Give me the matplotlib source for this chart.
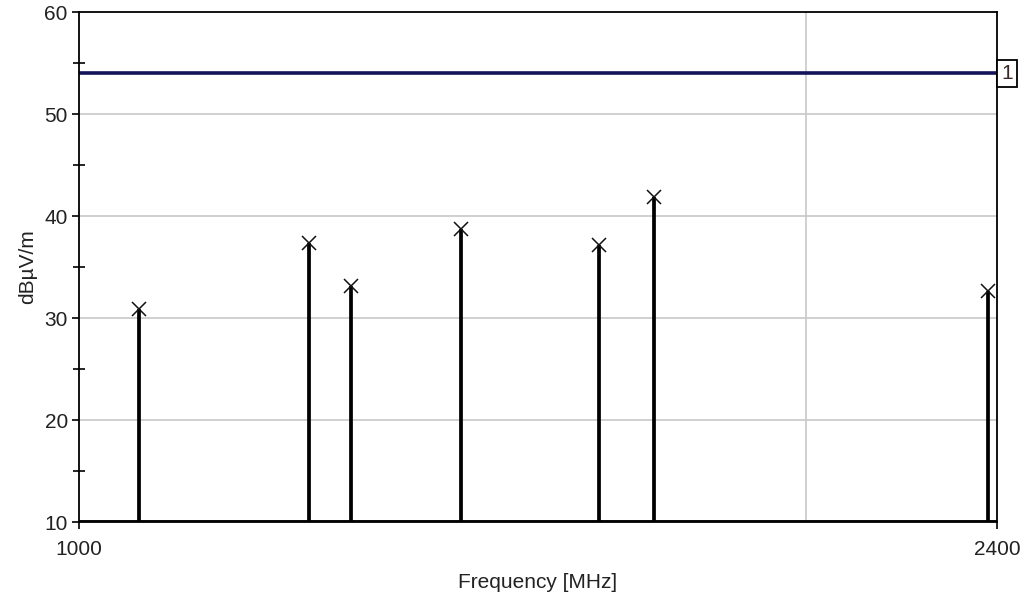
import matplotlib
matplotlib.use("Agg")
import matplotlib.pyplot as plt
from matplotlib.ticker import FixedLocator, NullFormatter, NullLocator

plt.rcParams['font.family'] = ['Liberation Sans', 'DejaVu Sans']

# Measured peaks
freq_mhz = [1059, 1245, 1296, 1440, 1642, 1731, 2380]
level_dbuv = [30.9, 37.4, 33.1, 38.7, 37.2, 41.9, 32.7]

limit_level = 54
limit_label = "1"
x_ticks = [1000, 2400]
y_ticks = [10, 20, 30, 40, 50, 60]
y_minor = [15, 25, 35, 45, 55]
x_grid = [2000]

fig = plt.figure(figsize=(10.24, 6.07), dpi=100)
ax = fig.add_axes([0.0771, 0.140, 0.8965, 0.840])

ax.set_xscale('log')
ax.set_xlim(1000, 2400)
ax.set_ylim(10, 60)

# grid
for yv in y_ticks[1:-1]:
    ax.axhline(yv, color='#c8c8c8', lw=1.2, zorder=1)
for xv in x_grid:
    ax.axvline(xv, color='#c8c8c8', lw=1.2, zorder=1)

# stems and markers
ax.vlines(freq_mhz, 10, level_dbuv, color='black', lw=2.7, zorder=3)
ax.plot(freq_mhz, level_dbuv, linestyle='none', marker='x', ms=10,
        mec='#111111', mew=1.1, zorder=4)
ax.axhline(10, color='black', lw=2.8, zorder=3)

# limit line
ax.axhline(limit_level, color='#14145a', lw=2.6, zorder=2)
ax.text(1.005, limit_level, limit_label, transform=ax.get_yaxis_transform(),
        ha='left', va='center', fontsize=15, color='#3a2a2a',
        bbox=dict(boxstyle='square,pad=0.2', fc='white', ec='black', lw=1.3),
        clip_on=False, zorder=5)

ax.xaxis.set_major_locator(FixedLocator(x_ticks))
ax.xaxis.set_minor_locator(NullLocator())
ax.xaxis.set_minor_formatter(NullFormatter())
ax.set_xticklabels([str(v) for v in x_ticks])
ax.set_yticks(y_ticks)
ax.set_yticks(y_minor, minor=True)

ax.tick_params(axis='both', which='major', labelsize=15, length=5, width=1.2,
               direction='out', colors='black', labelcolor='#222222', pad=3)
ax.tick_params(axis='y', which='minor', length=8, width=1.2, direction='inout')
ax.tick_params(axis='x', which='major', pad=8)

for s in ax.spines.values():
    s.set_linewidth(1.3)
    s.set_color('black')

ax.set_xlabel('Frequency [MHz]', fontsize=15, color='#222222', labelpad=10)
ax.set_ylabel('dBµV/m', fontsize=15, color='#222222', labelpad=5)

fig.savefig('out.png', dpi=100)
